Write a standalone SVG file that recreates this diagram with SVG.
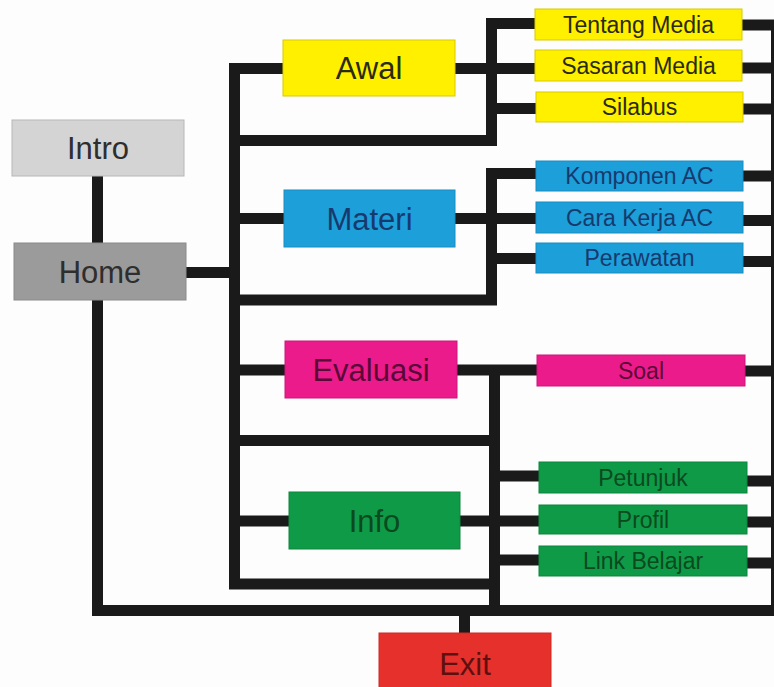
<svg xmlns="http://www.w3.org/2000/svg" width="774" height="687" viewBox="0 0 774 687">
<style>
.bg{fill:#fdfdfd}
.ln{fill:none;stroke:#1a1a1a;stroke-width:11;stroke-linejoin:miter;stroke-linecap:butt}
.big{font-family:"Liberation Sans",Arial,sans-serif;font-size:31px;text-anchor:middle}
.sm{font-family:"Liberation Sans",Arial,sans-serif;font-size:23px;text-anchor:middle}
.gray1{fill:#d4d4d4;stroke:#b8b8b8;stroke-width:1}
.gray2{fill:#9b9b9b;stroke:#8a8a8a;stroke-width:1}
.yel{fill:#fff000;stroke:#d9c900;stroke-width:1}
.blu{fill:#1d9fda;stroke:#1a8cc0;stroke-width:1}
.mag{fill:#ec1b8c;stroke:#cc1878;stroke-width:1}
.grn{fill:#0f9a47;stroke:#0c853c;stroke-width:1}
.red{fill:#e6302b;stroke:#cc2a25;stroke-width:1}
.tg{fill:#2e2e2e}
.ty{fill:#2a2a10}
.tb{fill:#173a6e}
.tm{fill:#5a0838}
.tgr{fill:#0b4a1e}
.tr{fill:#5e1010}
</style>
<rect class="bg" x="0" y="0" width="774" height="687"/>
<g id="connectors">
<path class="ln" d="M97.5 176 V243"/>
<path class="ln" d="M186 272.5 H234.5"/>
<path class="ln" d="M283 68.5 H234.5 V584 H494.5"/>
<path class="ln" d="M234.5 140.5 H491.5 V23.5 H535"/>
<path class="ln" d="M455 68.5 H535"/>
<path class="ln" d="M491.5 108.5 H536"/>
<path class="ln" d="M234.5 218.5 H284"/>
<path class="ln" d="M234.5 300 H491.5 V173.5 H536"/>
<path class="ln" d="M455 218.5 H536"/>
<path class="ln" d="M491.5 258.5 H536"/>
<path class="ln" d="M234.5 370 H285"/>
<path class="ln" d="M457 370 H537"/>
<path class="ln" d="M494.5 370 V610.5"/>
<path class="ln" d="M234.5 440.5 H494.5"/>
<path class="ln" d="M234.5 521 H289"/>
<path class="ln" d="M460 521 H539"/>
<path class="ln" d="M494.5 476 H539"/>
<path class="ln" d="M494.5 560 H539"/>
<path class="ln" d="M97.5 300 V610.5 H782"/>
<path class="ln" d="M464.5 610 V634"/>
<path class="ln" d="M742 25 H776.5 V610.5"/>
<path class="ln" d="M742 68 H776"/>
<path class="ln" d="M743 109 H776"/>
<path class="ln" d="M743 176 H776"/>
<path class="ln" d="M743 220.5 H776"/>
<path class="ln" d="M743 261.5 H776"/>
<path class="ln" d="M745 371 H776"/>
<path class="ln" d="M747 481 H776"/>
<path class="ln" d="M747 522 H776"/>
<path class="ln" d="M747 563 H776"/>
</g>
<g id="intro"><rect class="gray1" x="12" y="120" width="172" height="56"/><text class="big tg" x="98" y="159">Intro</text></g>
<g id="home"><rect class="gray2" x="14" y="243" width="172" height="57"/><text class="big tg" x="100" y="282.5">Home</text></g>
<g id="awal"><rect class="yel" x="283" y="40" width="172" height="56"/><text class="big ty" x="369" y="79">Awal</text></g>
<g id="materi"><rect class="blu" x="284" y="190" width="171" height="57"/><text class="big tb" x="369.5" y="229.5">Materi</text></g>
<g id="evaluasi"><rect class="mag" x="285" y="341" width="172" height="57"/><text class="big tm" x="371" y="380.5">Evaluasi</text></g>
<g id="info"><rect class="grn" x="289" y="492" width="171" height="57"/><text class="big tgr" x="374.5" y="531.5">Info</text></g>
<g id="exit"><rect class="red" x="379" y="633" width="172" height="60"/><text class="big tr" x="465" y="675">Exit</text></g>
<g id="tentang-media"><rect class="yel" x="535" y="9" width="207" height="31"/><text class="sm ty" x="638.5" y="33">Tentang Media</text></g>
<g id="sasaran-media"><rect class="yel" x="535" y="50" width="207" height="31"/><text class="sm ty" x="638.5" y="74">Sasaran Media</text></g>
<g id="silabus"><rect class="yel" x="536" y="92" width="207" height="30"/><text class="sm ty" x="639.5" y="115">Silabus</text></g>
<g id="komponen-ac"><rect class="blu" x="536" y="161" width="207" height="30"/><text class="sm tb" x="639.5" y="184">Komponen AC</text></g>
<g id="cara-kerja-ac"><rect class="blu" x="536" y="202" width="207" height="31"/><text class="sm tb" x="639.5" y="226">Cara Kerja AC</text></g>
<g id="perawatan"><rect class="blu" x="536" y="243" width="207" height="30"/><text class="sm tb" x="639.5" y="266">Perawatan</text></g>
<g id="soal"><rect class="mag" x="537" y="355" width="208" height="31"/><text class="sm tm" x="641" y="379">Soal</text></g>
<g id="petunjuk"><rect class="grn" x="539" y="462" width="208" height="31"/><text class="sm tgr" x="643" y="486">Petunjuk</text></g>
<g id="profil"><rect class="grn" x="539" y="505" width="208" height="29"/><text class="sm tgr" x="643" y="528">Profil</text></g>
<g id="link-belajar"><rect class="grn" x="539" y="546" width="208" height="30"/><text class="sm tgr" x="643" y="569">Link Belajar</text></g>
</svg>
